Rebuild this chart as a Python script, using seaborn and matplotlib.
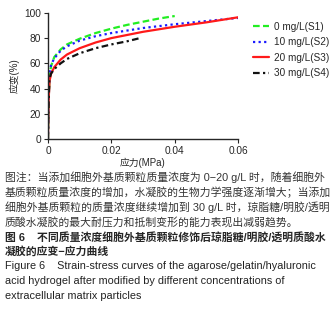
import numpy as np
import pandas as pd
import seaborn as sns
import matplotlib.pyplot as plt

# stress (MPa) / strain (%)
s1_x = [0, 0.0002, 0.0005, 0.001, 0.002, 0.004, 0.006, 0.01, 0.015, 0.02, 0.025, 0.03, 0.035, 0.04]
s1_y = [0, 30, 50, 58, 65, 71, 75, 79.5, 84, 87.5, 90.5, 93, 95.5, 97.5]
s2_x = [0, 0.0002, 0.0005, 0.001, 0.002, 0.004, 0.006, 0.01, 0.015, 0.02, 0.03, 0.04, 0.05, 0.06]
s2_y = [0, 35, 52, 59, 64, 70, 73.5, 78, 81.5, 84, 88, 91, 93.5, 96]
s3_x = [0, 0.0002, 0.0005, 0.001, 0.002, 0.004, 0.006, 0.01, 0.015, 0.02, 0.03, 0.04, 0.05, 0.06]
s3_y = [0, 30, 46, 52, 57, 63, 67, 72, 76.5, 80, 85, 89, 92.5, 96.5]
s4_x = [0, 0.0002, 0.0005, 0.001, 0.002, 0.004, 0.006, 0.01, 0.015, 0.02, 0.025, 0.029]
s4_y = [0, 30, 48, 52, 55.5, 60, 63.5, 68, 72, 75, 77.5, 80]
labels = ["0 mg/L(S1)", "10 mg/L(S2)", "20 mg/L(S3)", "30 mg/L(S4)"]

sns.set_style("ticks")
plt.rcParams['font.family'] = ['Liberation Sans', 'Noto Sans CJK SC', 'DejaVu Sans']
plt.rcParams['axes.unicode_minus'] = False

fig = plt.figure(figsize=(3.33, 3.14), dpi=100)
ax = fig.add_axes([0.144, 0.557, 0.571, 0.402])

series = [(s1_x, s1_y, "#22ee22", (3, 1.5)),
          (s2_x, s2_y, "#1a1aff", (1, 1.5)),
          (s3_x, s3_y, "#ff1a1a", ""),
          (s4_x, s4_y, "#111111", (3, 1.5, 1, 1.5))]
for (xs, ys, c, d), lab in zip(series, labels):
    sns.lineplot(x=xs, y=ys, ax=ax, color=c, lw=1.6, label=lab, sort=False)
    if d:
        ax.lines[-1].set_dashes(d)

ax.set_xlim(0, 0.06)
ax.set_ylim(0, 100)
ax.set_xticks([0, 0.02, 0.04, 0.06])
ax.set_xticklabels(["0", "0.02", "0.04", "0.06"])
ax.set_yticks([0, 20, 40, 60, 80, 100])
ax.tick_params(labelsize=7.3, length=3, width=0.8, pad=2)
for sp in ["left", "bottom"]:
    ax.spines[sp].set_linewidth(1)
sns.despine(ax=ax)
ax.set_xlabel("应力(MPa)", fontsize=7, labelpad=1)
ax.set_ylabel("应变(%)", fontsize=7, labelpad=3)
ax.legend(loc="upper left", bbox_to_anchor=(1.03, 1.0), frameon=False, fontsize=7.2,
          handlelength=1.6, handletextpad=0.5, labelspacing=0.55)

cap = ["图注：当添加细胞外基质颗粒质量浓度为 0−20 g/L 时，随着细胞外",
       "基质颗粒质量浓度的增加，水凝胶的生物力学强度逐渐增大；当添加",
       "细胞外基质颗粒的质量浓度继续增加到 30 g/L 时，琼脂糖/明胶/透明",
       "质酸水凝胶的最大耐压力和抵制变形的能力表现出减弱趋势。"]
ys_cap = [177, 192, 207, 222]
for t, y in zip(cap, ys_cap):
    fig.text(0.015, 1 - y / 314, t, fontsize=7.8, color="#333333", va="center")
fig.text(0.015, 1 - 237 / 314, "图 6    不同质量浓度细胞外基质颗粒修饰后琼脂糖/明胶/透明质酸水",
         fontsize=7.8, fontweight="bold", va="center")
fig.text(0.015, 1 - 251 / 314, "凝胶的应变−应力曲线", fontsize=7.8, fontweight="bold", va="center")
eng = ["Figure 6    Strain-stress curves of the agarose/gelatin/hyaluronic",
       "acid hydrogel after modified by different concentrations of",
       "extracellular matrix particles"]
for t, y in zip(eng, [266, 281, 296]):
    fig.text(0.015, 1 - y / 314, t, fontsize=7.8, color="#222222", va="center")

fig.savefig("out.png", dpi=100)
